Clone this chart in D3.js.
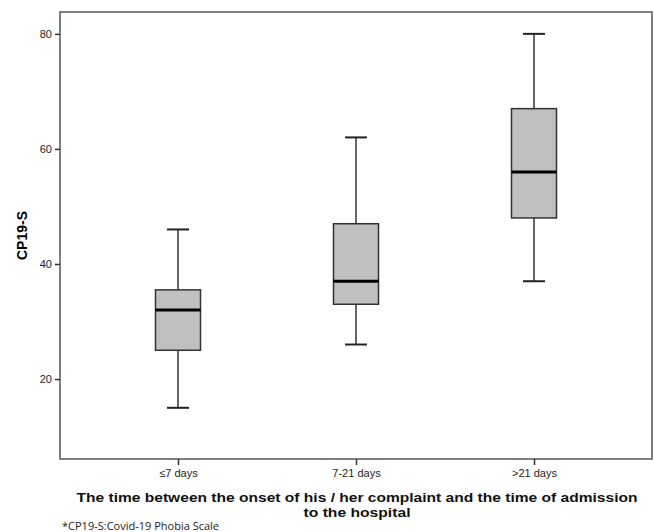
<!DOCTYPE html>
<html>
<head>
<meta charset="utf-8">
<script src="https://cdn.jsdelivr.net/npm/d3@7"></script>
<style>
  body { margin: 0; background: #fff; }
</style>
</head>
<body>
<div id="chart"></div>
<script>
// groups and five-number summaries
const groups = ["≤7 days", "7-21 days", ">21 days"];
const whiskerLow = [15, 26, 37];
const q1 = [25, 33, 48];
const median = [32, 37, 56];
const q3 = [35.5, 47, 67];
const whiskerHigh = [46, 62, 80];
const yTicks = [20, 40, 60, 80];

const width = 654, height = 532;
const margin = {top: 12, right: 2, bottom: 73, left: 60};

const svg = d3.select("#chart").append("svg")
    .attr("width", width)
    .attr("height", height);

const x = d3.scalePoint()
    .domain(groups)
    .range([margin.left, width - margin.right])
    .padding(0.663);

const y = d3.scaleLinear()
    .domain([6.1, 83.8])
    .range([height - margin.bottom, margin.top]);

const boxW = 45, capW = 22;

// frame
svg.append("rect")
    .attr("x", margin.left)
    .attr("y", margin.top)
    .attr("width", width - margin.left - margin.right)
    .attr("height", height - margin.top - margin.bottom)
    .attr("fill", "none")
    .attr("stroke", "#555")
    .attr("stroke-width", 1.5);

// axes
const yAxis = svg.append("g")
    .attr("transform", `translate(${margin.left},0)`)
    .call(d3.axisLeft(y).tickValues(yTicks).tickSize(5).tickPadding(3));
const xAxis = svg.append("g")
    .attr("transform", `translate(0,${height - margin.bottom})`)
    .call(d3.axisBottom(x).tickSize(6).tickPadding(4));

[yAxis, xAxis].forEach(a => {
    a.select(".domain").remove();
    a.selectAll(".tick line").attr("stroke", "#333").attr("stroke-width", 1.5);
    a.selectAll("text")
        .attr("fill", "#222")
        .style("font-family", "'Liberation Sans', Arial, sans-serif")
        .style("font-size", "11px");
});

const data = groups.map((g, i) => ({
    g, lo: whiskerLow[i], q1: q1[i], med: median[i], q3: q3[i], hi: whiskerHigh[i]
}));

const box = svg.append("g").selectAll("g")
    .data(data)
    .join("g")
    .attr("transform", d => `translate(${x(d.g)},0)`);

// whiskers
box.append("line")
    .attr("y1", d => y(d.hi)).attr("y2", d => y(d.q3))
    .attr("stroke", "#333").attr("stroke-width", 1.5);
box.append("line")
    .attr("y1", d => y(d.q1)).attr("y2", d => y(d.lo))
    .attr("stroke", "#333").attr("stroke-width", 1.5);
box.append("line")
    .attr("x1", -capW / 2).attr("x2", capW / 2)
    .attr("y1", d => y(d.hi)).attr("y2", d => y(d.hi))
    .attr("stroke", "#222").attr("stroke-width", 2);
box.append("line")
    .attr("x1", -capW / 2).attr("x2", capW / 2)
    .attr("y1", d => y(d.lo)).attr("y2", d => y(d.lo))
    .attr("stroke", "#222").attr("stroke-width", 2);

// boxes
box.append("rect")
    .attr("x", -boxW / 2)
    .attr("width", boxW)
    .attr("y", d => y(d.q3))
    .attr("height", d => y(d.q1) - y(d.q3))
    .attr("fill", "#c0c0c0")
    .attr("stroke", "#333")
    .attr("stroke-width", 1.5);

// medians
box.append("line")
    .attr("x1", -boxW / 2).attr("x2", boxW / 2)
    .attr("y1", d => y(d.med)).attr("y2", d => y(d.med))
    .attr("stroke", "#000").attr("stroke-width", 3);

// titles
svg.append("text")
    .attr("transform", `translate(27,${(margin.top + height - margin.bottom) / 2}) rotate(-90)`)
    .attr("text-anchor", "middle")
    .style("font-family", "'Liberation Sans', Arial, sans-serif")
    .style("font-weight", "bold")
    .style("font-size", "14px")
    .text("CP19-S");

// x title as two separate lines, stretched to the reference's wider face
const xTitleLines = ["The time between the onset of his / her complaint and the time of admission", "to the hospital"];
const xTitleWidths = [561, 107];
svg.append("g").selectAll("text")
    .data(xTitleLines)
    .join("text")
    .attr("x", 357)
    .attr("y", (d, i) => 502 + i * 15)
    .attr("text-anchor", "middle")
    .attr("textLength", (d, i) => xTitleWidths[i])
    .attr("lengthAdjust", "spacingAndGlyphs")
    .style("font-family", "'Liberation Sans', Arial, sans-serif")
    .style("font-weight", "bold")
    .style("font-size", "13.2px")
    .attr("fill", "#111")
    .text(d => d);

svg.append("text")
    .attr("x", 62)
    .attr("y", 530)
    .style("font-family", "'Open Sans', sans-serif")
    .style("font-size", "11px")
    .attr("fill", "#222")
    .text("*CP19-S:Covid-19 Phobia Scale");
</script>
</body>
</html>
